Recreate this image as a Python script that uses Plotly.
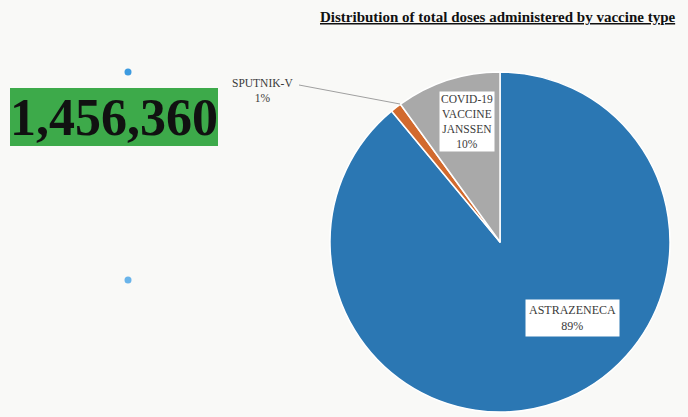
import plotly.graph_objects as go

W, H = 688, 417

# Data
vaccine_types = ["ASTRAZENECA", "SPUTNIK-V", "COVID-19<br>VACCINE<br>JANSSEN"]
doses = [1296000, 15360, 145000]
total_doses = sum(doses)
slice_colors = ["#2b77b3", "#d26a2e", "#a9a9a9"]

def px(x):
    return x / W

def py(y):
    return 1 - y / H

fig = go.Figure()
fig.add_trace(go.Pie(
    labels=vaccine_types,
    values=doses,
    sort=False,
    direction="clockwise",
    rotation=0,
    textinfo="none",
    marker=dict(colors=slice_colors, line=dict(color="white", width=1.5)),
    domain=dict(x=[px(330), px(670)], y=[py(412), py(72)]),
    showlegend=False,
))

pct = [round(100 * v / total_doses) for v in doses]

annotations = [
    dict(text="<u><b>Distribution of total doses administered by vaccine type</b></u>",
         x=px(318), y=py(17), xanchor="left", yanchor="middle",
         font=dict(family="Liberation Serif", size=15, color="#111111")),
    dict(text=f"<b>{total_doses:,}</b>", x=px(114), y=py(117), xanchor="center", yanchor="middle",
         font=dict(family="Liberation Serif", size=52, color="#111111")),
    dict(text=f"{vaccine_types[2]}<br>{pct[2]}%", x=px(466.5), y=py(122), xanchor="center",
         yanchor="middle", bgcolor="white", borderpad=1,
         font=dict(family="Liberation Serif", size=11.5, color="#3a3a3a")),
    dict(text=f"{vaccine_types[0]}<br>{pct[0]}%", x=px(572), y=py(318), xanchor="center",
         yanchor="middle", bgcolor="white", borderpad=3,
         font=dict(family="Liberation Serif", size=12, color="#3a3a3a")),
    dict(text=f"{vaccine_types[1]}<br>{pct[1]}%", x=px(262), y=py(91), xanchor="center",
         yanchor="middle", font=dict(family="Liberation Serif", size=11.5, color="#3a3a3a")),
]

shapes = [
    dict(type="rect", xref="paper", yref="paper", x0=px(10), x1=px(218), y0=py(146), y1=py(88),
         fillcolor="#3daa4a", line=dict(width=0), layer="below"),
    dict(type="circle", xref="paper", yref="paper", x0=px(124.5), x1=px(131.5), y0=py(75.5), y1=py(68.5),
         fillcolor="#3d9be0", line=dict(width=0)),
    dict(type="circle", xref="paper", yref="paper", x0=px(124.5), x1=px(131.5), y0=py(283.5), y1=py(276.5),
         fillcolor="#6ab4ea", line=dict(width=0)),
    dict(type="line", xref="paper", yref="paper", x0=px(299), y0=py(85), x1=px(400), y1=py(104),
         line=dict(color="#a0a0a0", width=1)),
]

fig.update_layout(
    width=W, height=H,
    margin=dict(l=0, r=0, t=0, b=0),
    paper_bgcolor="#f9f9f7",
    plot_bgcolor="#f9f9f7",
    annotations=annotations,
    shapes=shapes,
)
for a in fig.layout.annotations:
    a.xref = "paper"
    a.yref = "paper"
    a.showarrow = False

fig.write_html(
    "out.html",
    config={"displayModeBar": False},
    post_script="document.body.style.margin='0';document.body.style.overflow='hidden';document.body.style.background='#f9f9f7';",
)
